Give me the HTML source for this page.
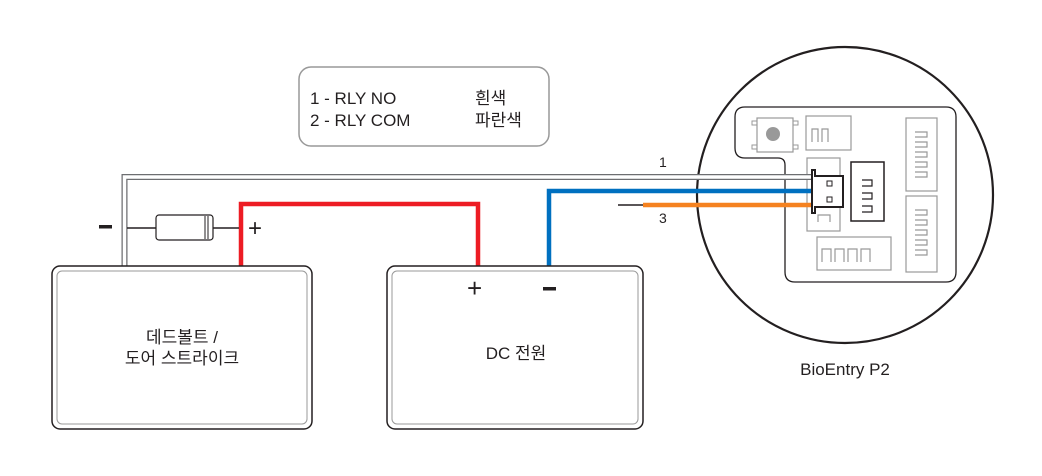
<!DOCTYPE html>
<html><head><meta charset="utf-8"><style>
html,body{margin:0;padding:0;background:#fff;}
svg{display:block;}
text{font-family:"Liberation Sans","Noto Sans CJK KR",sans-serif;fill:#231f20;}
</style></head><body>
<svg width="1042" height="476" viewBox="0 0 1042 476" xmlns="http://www.w3.org/2000/svg">
<rect x="299" y="67" width="250" height="79" rx="12" fill="#fff" stroke="#999" stroke-width="1.5"/>
<text x="310" y="104" font-size="17">1 - RLY NO</text>
<text x="310" y="126" font-size="17">2 - RLY COM</text>
<text x="475" y="104" font-size="17">흰색</text>
<text x="475" y="126" font-size="17">파란색</text>

<circle cx="845" cy="195" r="148" fill="#fff" stroke="#231f20" stroke-width="2.2"/>
<path d="M745 107 H946 Q956 107 956 117 V272 Q956 282 946 282 H795 Q785 282 785 272 V165 Q785 158 778 158 H745 Q735 158 735 148 V117 Q735 107 745 107 Z" fill="#fff" stroke="#231f20" stroke-width="1.3"/>
<rect x="757" y="118" width="36" height="34" fill="#fff" stroke="#999" stroke-width="1.2"/>
<rect x="752" y="121" width="5" height="4" fill="none" stroke="#999"/>
<rect x="793" y="121" width="5" height="4" fill="none" stroke="#999"/>
<rect x="752" y="145" width="5" height="4" fill="none" stroke="#999"/>
<rect x="793" y="145" width="5" height="4" fill="none" stroke="#999"/>
<circle cx="773" cy="134" r="7" fill="#999"/>
<g fill="none" stroke="#999" stroke-width="1.2">
<rect x="806" y="116" width="45" height="34"/>
<path d="M812 142 v-13 h6 v13 M822 142 v-13 h6 v13"/>
<rect x="906" y="118" width="31" height="73"/>
<path d="M915 132 h12 v5 h-12 M915 142 h12 v5 h-12 M915 152 h12 v5 h-12 M915 162 h12 v5 h-12 M915 172 h12 v5 h-12"/>
<rect x="906" y="196" width="31" height="76"/>
<path d="M915 210 h12 v5 h-12 M915 220 h12 v5 h-12 M915 230 h12 v5 h-12 M915 240 h12 v5 h-12 M915 250 h12 v5 h-12"/>
<rect x="807" y="158" width="33" height="73"/>
<path d="M818 222 v-7 h12 v7"/>
<rect x="817" y="237" width="74" height="33"/>
<path d="M822 262 v-13 h9 v13 M835 262 v-13 h9 v13 M848 262 v-13 h9 v13 M861 262 v-13 h9 v13"/>
</g>
<rect x="851" y="162" width="33" height="59" fill="#fff" stroke="#231f20" stroke-width="1.5"/>
<path d="M862 180 h10 v6 h-10 M862 193 h10 v6 h-10 M862 206 h10 v6 h-10" fill="none" stroke="#231f20" stroke-width="1.2"/>

<path d="M124.5 266 V177 H812" fill="none" stroke="#6d6e71" stroke-width="6"/>
<path d="M124.5 266 V177 H812" fill="none" stroke="#fff" stroke-width="3.5"/>
<path d="M549 266 V191 H812" fill="none" stroke="#0070c0" stroke-width="4.5"/>
<line x1="618" y1="205" x2="643" y2="205" stroke="#231f20" stroke-width="1.5"/>
<line x1="643" y1="205" x2="812" y2="205" stroke="#f58220" stroke-width="4.5"/>
<path d="M241 266 V204 H478 V266" fill="none" stroke="#ed1c24" stroke-width="4.5"/>
<line x1="127" y1="228" x2="239" y2="228" stroke="#231f20" stroke-width="1.5"/>
<rect x="156" y="215" width="57" height="25" rx="3" fill="#fff" stroke="#231f20" stroke-width="1.2"/>
<line x1="205" y1="216" x2="205" y2="239" stroke="#231f20" stroke-width="1"/>
<line x1="208" y1="216" x2="208" y2="239" stroke="#231f20" stroke-width="1"/>
<path d="M812 170 h3 v6 h28 v31 h-28 v6 h-3 z" fill="#fff" stroke="#231f20" stroke-width="2"/>
<rect x="827" y="181" width="5" height="5" fill="none" stroke="#231f20"/>
<rect x="827" y="197" width="5" height="5" fill="none" stroke="#231f20"/>

<rect x="99" y="225" width="13" height="3.5" fill="#231f20"/>
<text x="248" y="236" font-size="24">+</text>
<text x="659" y="167" font-size="14">1</text>
<text x="659" y="223" font-size="14">3</text>

<rect x="52" y="266" width="260" height="163" rx="8" fill="#fff" stroke="#231f20" stroke-width="1.5"/>
<rect x="57" y="271" width="250" height="153" rx="5" fill="none" stroke="#999" stroke-width="1"/>
<rect x="387" y="266" width="256" height="163" rx="8" fill="#fff" stroke="#231f20" stroke-width="1.5"/>
<rect x="392" y="271" width="246" height="153" rx="5" fill="none" stroke="#999" stroke-width="1"/>
<text x="467" y="297" font-size="26">+</text>
<rect x="543" y="287" width="13" height="3.5" fill="#231f20"/>
<text x="182" y="343" font-size="17" text-anchor="middle">데드볼트 /</text>
<text x="182" y="364" font-size="17" text-anchor="middle">도어 스트라이크</text>
<text x="516" y="359" font-size="17" text-anchor="middle">DC 전원</text>
<text x="845" y="375" font-size="17" text-anchor="middle">BioEntry P2</text>
</svg>
</body></html>
